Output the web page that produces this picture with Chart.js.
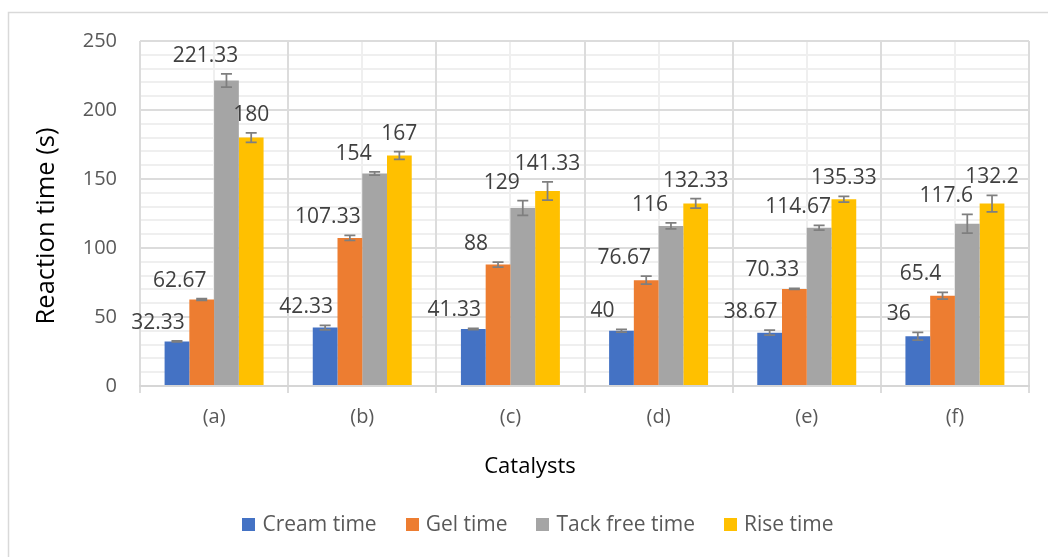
<!DOCTYPE html>
<html>
<head>
<meta charset="utf-8">
<title>Reaction time by catalyst</title>
<script src="https://cdn.jsdelivr.net/npm/chart.js@4.4.1/dist/chart.umd.min.js"></script>
<style>
  html, body { margin: 0; padding: 0; background: #fff; }
  #wrap { width: 1048px; height: 557px; position: relative; }
</style>
</head>
<body>
<div id="wrap"><canvas id="chart" width="1048" height="557"></canvas></div>
<script>
// Categories and measured reaction times (s)
const catalysts = ['(a)', '(b)', '(c)', '(d)', '(e)', '(f)'];
const seriesNames = ['Cream time', 'Gel time', 'Tack free time', 'Rise time'];

const creamTime    = [32.33, 42.33, 41.33, 40, 38.67, 36];
const gelTime      = [62.67, 107.33, 88, 76.67, 70.33, 65.4];
const tackFreeTime = [221.33, 154, 129, 116, 114.67, 117.6];
const riseTime     = [180, 167, 141.33, 132.33, 135.33, 132.2];

// Standard deviations shown as error bars
const creamErr    = [0.4, 1.6, 0.4, 1.0, 1.8, 2.8];
const gelErr      = [0.6, 1.8, 1.8, 2.9, 0.4, 2.4];
const tackFreeErr = [4.8, 1.2, 5.4, 2.2, 1.8, 6.8];
const riseErr     = [3.4, 2.8, 6.6, 3.4, 2.0, 6.0];

const yTicks = [0, 50, 100, 150, 200, 250];
const yMinorStep = 10;

const seriesColors = ['#4472C4', '#ED7D31', '#A5A5A5', '#FFC000'];
const FONT = '"Open Sans", "Noto Sans", sans-serif';
const GRID_MAJOR = '#dcdcdc';
const GRID_MINOR = '#efefef';

const errorSets = [creamErr, gelErr, tackFreeErr, riseErr];
const valueSets = [creamTime, gelTime, tackFreeTime, riseTime];

// Horizontal nudge of the value labels, per series
const labelNudge = [-19, -22, -21, 0];

const decorPlugin = {
  id: 'decor',
  beforeDraw(chart) {
    const { ctx, chartArea: a, scales: { x, y } } = chart;
    ctx.save();
    ctx.fillStyle = '#ffffff';
    ctx.fillRect(0, 0, chart.width, chart.height);
    // outer frame
    ctx.strokeStyle = '#d9d9d9';
    ctx.lineWidth = 1.5;
    ctx.strokeRect(8.5, 12.5, chart.width + 20, chart.height + 20);
    // minor grid
    ctx.strokeStyle = GRID_MINOR;
    ctx.lineWidth = 2;
    ctx.beginPath();
    for (let v = yTicks[0]; v <= yTicks[yTicks.length - 1]; v += yMinorStep) {
      if (yTicks.includes(v)) continue;
      const py = Math.round(y.getPixelForValue(v));
      ctx.moveTo(a.left, py);
      ctx.lineTo(a.right, py);
    }
    catalysts.forEach((c, i) => {
      const px = Math.round(x.getPixelForValue(i));
      ctx.moveTo(px, a.top);
      ctx.lineTo(px, a.bottom);
    });
    ctx.stroke();
    ctx.restore();
  },
  afterDatasetsDraw(chart) {
    const { ctx, scales: { y } } = chart;
    ctx.save();
    chart.data.datasets.forEach((ds, di) => {
      const meta = chart.getDatasetMeta(di);
      const errs = errorSets[di];
      meta.data.forEach((bar, i) => {
        const v = ds.data[i];
        const e = errs[i];
        const yt = y.getPixelForValue(v + e);
        const yb = y.getPixelForValue(v - e);
        ctx.strokeStyle = '#7f7f7f';
        ctx.lineWidth = 1.75;
        ctx.beginPath();
        ctx.moveTo(bar.x, yt); ctx.lineTo(bar.x, yb);
        ctx.moveTo(bar.x - 5.5, yt); ctx.lineTo(bar.x + 5.5, yt);
        ctx.moveTo(bar.x - 5.5, yb); ctx.lineTo(bar.x + 5.5, yb);
        ctx.stroke();
        // value label
        ctx.fillStyle = '#404040';
        ctx.font = '21px ' + FONT;
        ctx.textAlign = 'center';
        ctx.textBaseline = 'middle';
        ctx.fillText(String(v), bar.x + labelNudge[di], yt - 18);
      });
    });
    ctx.restore();
  },
  afterDraw(chart) {
    const { ctx } = chart;
    ctx.save();
    // axis titles
    ctx.fillStyle = '#000000';
    ctx.font = '22px ' + FONT;
    ctx.textAlign = 'center';
    ctx.textBaseline = 'middle';
    ctx.fillText('Catalysts', 530, 467);

    ctx.translate(54, 226);
    ctx.rotate(-Math.PI / 2);
    ctx.font = '25.5px ' + FONT;
    ctx.textBaseline = 'alphabetic';
    ctx.fillText('Reaction time (s)', 0, 0);
    ctx.setTransform(1, 0, 0, 1, 0, 0);

    // legend
    const box = 13, gapText = 7, gapItem = 29, cy = 525, cx = 538;
    ctx.font = '21px ' + FONT;
    const items = chart.data.datasets.map(ds => ({
      label: ds.label, color: ds.backgroundColor, w: ctx.measureText(ds.label).width
    }));
    const total = items.reduce((s, it) => s + box + gapText + it.w, 0) + gapItem * (items.length - 1);
    let x0 = cx - total / 2;
    ctx.textAlign = 'left';
    ctx.textBaseline = 'middle';
    items.forEach(it => {
      ctx.fillStyle = it.color;
      ctx.fillRect(Math.round(x0), cy - 7, box, box);
      ctx.fillStyle = '#595959';
      ctx.fillText(it.label, x0 + box + gapText, cy);
      x0 += box + gapText + it.w + gapItem;
    });
    ctx.restore();
  }
};

new Chart(document.getElementById('chart'), {
  type: 'bar',
  data: {
    labels: catalysts,
    datasets: valueSets.map((vals, i) => ({
      label: seriesNames[i],
      data: vals,
      backgroundColor: seriesColors[i],
      borderWidth: 0,
      categoryPercentage: 0.668,
      barPercentage: 1.0
    }))
  },
  options: {
    responsive: false,
    animation: false,
    devicePixelRatio: 1,
    layout: { padding: { left: 0, right: 19, top: 41, bottom: 0 } },
    plugins: {
      legend: { display: false },
      tooltip: { enabled: false }
    },
    scales: {
      x: {
        offset: true,
        grid: { color: GRID_MAJOR, offset: true, drawTicks: true, tickLength: 7, tickColor: GRID_MAJOR, lineWidth: 2 },
        border: { color: '#d6d6d6', width: 2 },
        ticks: { color: '#595959', font: { family: FONT, size: 20 }, padding: 12 },
        afterFit(scale) { scale.height = 171; }
      },
      y: {
        min: yTicks[0],
        max: yTicks[yTicks.length - 1],
        afterBuildTicks(scale) { scale.ticks = yTicks.map(v => ({ value: v })); },
        grid: { color: GRID_MAJOR, drawTicks: false, lineWidth: 2 },
        border: { display: false },
        ticks: { color: '#595959', font: { family: FONT, size: 20 }, padding: 23 },
        afterFit(scale) { scale.width = 140; }
      }
    }
  },
  plugins: [decorPlugin]
});
</script>
</body>
</html>
